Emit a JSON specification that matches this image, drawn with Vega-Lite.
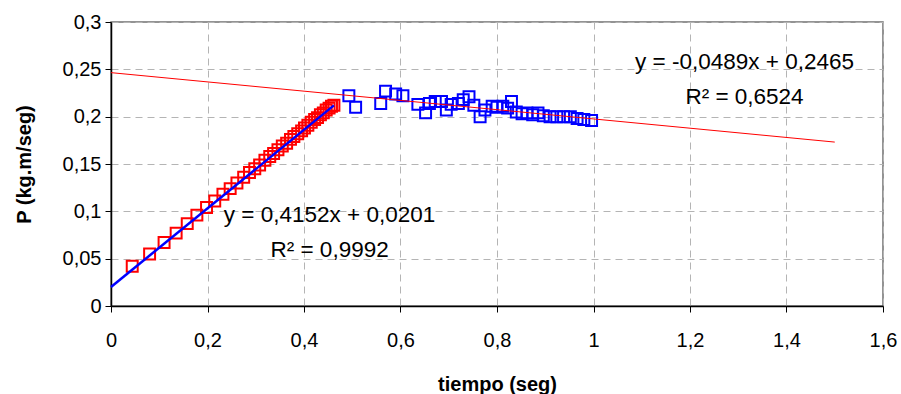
{
  "$schema": "https://vega.github.io/schema/vega-lite/v6.json",
  "width": 772,
  "height": 284,
  "autosize": {"type": "none"},
  "padding": {"left": 111, "top": 22, "right": 18, "bottom": 88},
  "background": "white",
  "config": {
    "view": {"stroke": "#707070", "strokeWidth": 1.5},
    "font": "Liberation Sans"
  },
  "datasets": {
    "puntos": [
      {"t": 0.044, "P": 0.042, "grupo": "subida"},
      {"t": 0.080, "P": 0.055, "grupo": "subida"},
      {"t": 0.110, "P": 0.067, "grupo": "subida"},
      {"t": 0.135, "P": 0.077, "grupo": "subida"},
      {"t": 0.158, "P": 0.087, "grupo": "subida"},
      {"t": 0.178, "P": 0.096, "grupo": "subida"},
      {"t": 0.198, "P": 0.104, "grupo": "subida"},
      {"t": 0.215, "P": 0.111, "grupo": "subida"},
      {"t": 0.232, "P": 0.118, "grupo": "subida"},
      {"t": 0.247, "P": 0.124, "grupo": "subida"},
      {"t": 0.261, "P": 0.130, "grupo": "subida"},
      {"t": 0.275, "P": 0.136, "grupo": "subida"},
      {"t": 0.287, "P": 0.141, "grupo": "subida"},
      {"t": 0.298, "P": 0.145, "grupo": "subida"},
      {"t": 0.308, "P": 0.149, "grupo": "subida"},
      {"t": 0.319, "P": 0.154, "grupo": "subida"},
      {"t": 0.329, "P": 0.158, "grupo": "subida"},
      {"t": 0.337, "P": 0.161, "grupo": "subida"},
      {"t": 0.346, "P": 0.165, "grupo": "subida"},
      {"t": 0.355, "P": 0.169, "grupo": "subida"},
      {"t": 0.364, "P": 0.172, "grupo": "subida"},
      {"t": 0.372, "P": 0.176, "grupo": "subida"},
      {"t": 0.379, "P": 0.179, "grupo": "subida"},
      {"t": 0.387, "P": 0.182, "grupo": "subida"},
      {"t": 0.395, "P": 0.185, "grupo": "subida"},
      {"t": 0.401, "P": 0.188, "grupo": "subida"},
      {"t": 0.408, "P": 0.191, "grupo": "subida"},
      {"t": 0.415, "P": 0.194, "grupo": "subida"},
      {"t": 0.422, "P": 0.197, "grupo": "subida"},
      {"t": 0.428, "P": 0.199, "grupo": "subida"},
      {"t": 0.434, "P": 0.202, "grupo": "subida"},
      {"t": 0.440, "P": 0.204, "grupo": "subida"},
      {"t": 0.446, "P": 0.207, "grupo": "subida"},
      {"t": 0.452, "P": 0.209, "grupo": "subida"},
      {"t": 0.457, "P": 0.211, "grupo": "subida"},
      {"t": 0.462, "P": 0.212, "grupo": "subida"},
      {"t": 0.493, "P": 0.222, "grupo": "meseta"},
      {"t": 0.507, "P": 0.210, "grupo": "meseta"},
      {"t": 0.559, "P": 0.214, "grupo": "meseta"},
      {"t": 0.569, "P": 0.227, "grupo": "meseta"},
      {"t": 0.590, "P": 0.224, "grupo": "meseta"},
      {"t": 0.605, "P": 0.222, "grupo": "meseta"},
      {"t": 0.636, "P": 0.213, "grupo": "meseta"},
      {"t": 0.652, "P": 0.204, "grupo": "meseta"},
      {"t": 0.660, "P": 0.214, "grupo": "meseta"},
      {"t": 0.672, "P": 0.216, "grupo": "meseta"},
      {"t": 0.685, "P": 0.216, "grupo": "meseta"},
      {"t": 0.695, "P": 0.207, "grupo": "meseta"},
      {"t": 0.705, "P": 0.213, "grupo": "meseta"},
      {"t": 0.720, "P": 0.214, "grupo": "meseta"},
      {"t": 0.730, "P": 0.218, "grupo": "meseta"},
      {"t": 0.742, "P": 0.221, "grupo": "meseta"},
      {"t": 0.752, "P": 0.212, "grupo": "meseta"},
      {"t": 0.765, "P": 0.200, "grupo": "meseta"},
      {"t": 0.775, "P": 0.207, "grupo": "meseta"},
      {"t": 0.790, "P": 0.211, "grupo": "meseta"},
      {"t": 0.800, "P": 0.210, "grupo": "meseta"},
      {"t": 0.812, "P": 0.211, "grupo": "meseta"},
      {"t": 0.822, "P": 0.209, "grupo": "meseta"},
      {"t": 0.830, "P": 0.216, "grupo": "meseta"},
      {"t": 0.840, "P": 0.205, "grupo": "meseta"},
      {"t": 0.852, "P": 0.203, "grupo": "meseta"},
      {"t": 0.862, "P": 0.204, "grupo": "meseta"},
      {"t": 0.874, "P": 0.202, "grupo": "meseta"},
      {"t": 0.885, "P": 0.204, "grupo": "meseta"},
      {"t": 0.896, "P": 0.201, "grupo": "meseta"},
      {"t": 0.910, "P": 0.200, "grupo": "meseta"},
      {"t": 0.924, "P": 0.200, "grupo": "meseta"},
      {"t": 0.938, "P": 0.200, "grupo": "meseta"},
      {"t": 0.952, "P": 0.200, "grupo": "meseta"},
      {"t": 0.966, "P": 0.198, "grupo": "meseta"},
      {"t": 0.980, "P": 0.197, "grupo": "meseta"},
      {"t": 0.996, "P": 0.196, "grupo": "meseta"}
    ],
    "ajustes": [
      {"t": 0, "P": 0.0201, "recta": "lineal_subida"},
      {"t": 0.462, "P": 0.2119, "recta": "lineal_subida"},
      {"t": 0, "P": 0.2465, "recta": "lineal_meseta"},
      {"t": 1.5, "P": 0.17315, "recta": "lineal_meseta"}
    ],
    "textos": [
      {"t": 0.453, "P": 0.0965, "texto": "y = 0,4152x + 0,0201"},
      {"t": 0.453, "P": 0.0595, "texto": "R² = 0,9992"},
      {"t": 1.313, "P": 0.258, "texto": "y = -0,0489x + 0,2465"},
      {"t": 1.313, "P": 0.221, "texto": "R² = 0,6524"}
    ]
  },
  "layer": [
    {
      "data": {"name": "puntos"},
      "mark": {"type": "point", "shape": "square", "filled": false, "strokeWidth": 2, "size": 120, "opacity": 1},
      "encoding": {
        "x": {
          "field": "t", "type": "quantitative",
          "scale": {"domain": [0, 1.6], "nice": false, "zero": false},
          "axis": {
            "values": [0, 0.2, 0.4, 0.6, 0.8, 1, 1.2, 1.4, 1.6],
            "labelExpr": "replace(toString(datum.value), '.', ',')",
            "labelFlush": false, "labelOverlap": false,
            "labelFontSize": 20, "labelColor": "black", "labelPadding": 18,
            "tickSize": 6, "tickColor": "black", "domainColor": "black", "domainWidth": 1.5,
            "grid": true, "gridDash": [7, 5], "gridColor": "#b4b4b4", "gridWidth": 1,
            "title": "tiempo (seg)", "titleFontSize": 20, "titleFontWeight": "bold",
            "titleColor": "black", "titlePadding": 24
          }
        },
        "y": {
          "field": "P", "type": "quantitative",
          "scale": {"domain": [0, 0.3], "nice": false, "zero": false},
          "axis": {
            "values": [0, 0.05, 0.1, 0.15, 0.2, 0.25, 0.3],
            "labelExpr": "replace(toString(datum.value), '.', ',')",
            "labelFlush": false, "labelOverlap": false,
            "labelFontSize": 20, "labelColor": "black", "labelPadding": 4,
            "tickSize": 6, "tickColor": "black", "domainColor": "black", "domainWidth": 1.5,
            "grid": true, "gridDash": [7, 5], "gridColor": "#b4b4b4", "gridWidth": 1,
            "title": "P (kg.m/seg)", "titleFontSize": 20, "titleFontWeight": "bold",
            "titleColor": "black", "titlePadding": 28
          }
        },
        "color": {
          "field": "grupo", "type": "nominal",
          "scale": {"domain": ["subida", "meseta"], "range": ["#ff0000", "#0000ff"]},
          "legend": null
        }
      }
    },
    {
      "data": {"name": "ajustes"},
      "mark": {"type": "line"},
      "encoding": {
        "x": {"field": "t", "type": "quantitative"},
        "y": {"field": "P", "type": "quantitative"},
        "detail": {"field": "recta", "type": "nominal"},
        "color": {
          "field": "recta", "type": "nominal",
          "scale": {"domain": ["lineal_subida", "lineal_meseta"], "range": ["#0000ff", "#ff0000"]},
          "legend": null
        },
        "strokeWidth": {
          "field": "recta", "type": "nominal",
          "scale": {"domain": ["lineal_subida", "lineal_meseta"], "range": [2.5, 1]},
          "legend": null
        }
      }
    },
    {
      "data": {"name": "textos"},
      "mark": {"type": "text", "fontSize": 22.5, "color": "black", "align": "center", "baseline": "middle"},
      "encoding": {
        "x": {"field": "t", "type": "quantitative"},
        "y": {"field": "P", "type": "quantitative"},
        "text": {"field": "texto", "type": "nominal"}
      }
    }
  ],
  "resolve": {"scale": {"color": "independent"}}
}
